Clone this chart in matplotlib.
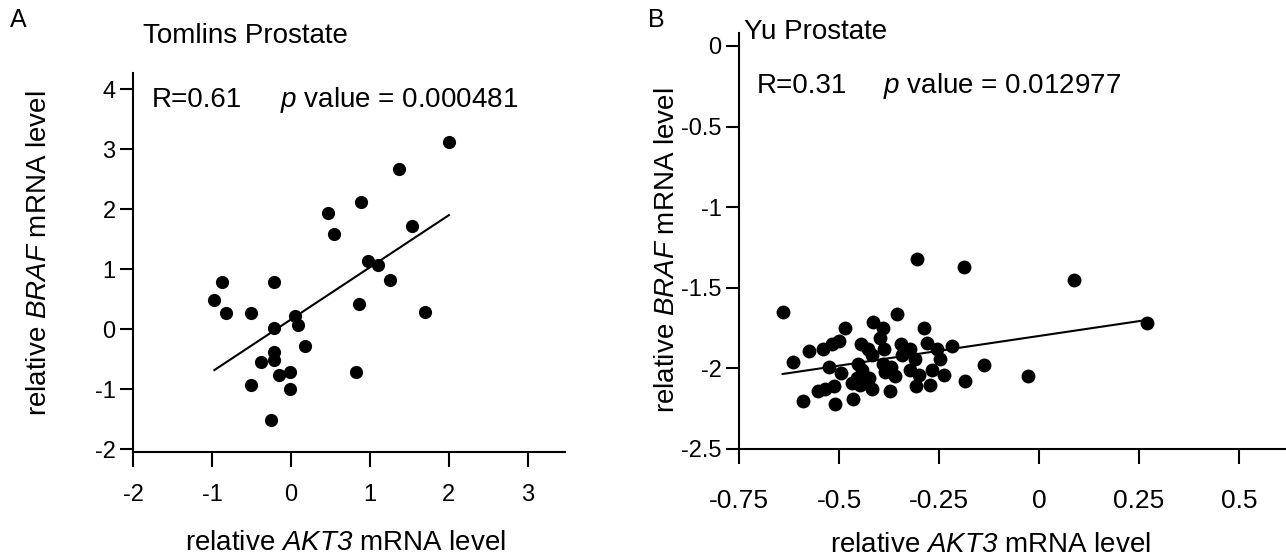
import numpy as np
import matplotlib
matplotlib.use('Agg')
import matplotlib.pyplot as plt

plt.rcParams['font.family'] = ['Liberation Sans', 'DejaVu Sans']
plt.rcParams['mathtext.fontset'] = 'custom'
plt.rcParams['mathtext.rm'] = 'Liberation Sans'
plt.rcParams['mathtext.it'] = 'Liberation Sans:italic'
# bf slot used for italic words with digits (mathit keeps digits upright)
plt.rcParams['mathtext.bf'] = 'Liberation Sans:italic'

# panel A - Tomlins Prostate
tomlins_akt3 = [2.00, 1.37, 0.89, 0.47, 0.54, 1.53, 0.97, 1.10, 1.25, 0.86,
                1.70, 0.82, -0.87, -0.97, -0.82, -0.50, -0.22, -0.21, 0.05, 0.09,
                0.18, -0.22, -0.21, -0.38, -0.15, -0.01, -0.51, -0.01, -0.25]
tomlins_braf = [3.12, 2.67, 2.12, 1.94, 1.58, 1.72, 1.14, 1.07, 0.82, 0.42,
                0.29, -0.72, 0.78, 0.48, 0.27, 0.26, 0.79, 0.01, 0.22, 0.06,
                -0.29, -0.38, -0.51, -0.55, -0.77, -0.72, -0.94, -1.00, -1.51]
tomlins_fit = [0.87, 0.16]  # slope, intercept
tomlins_r = 'R=0.61'
tomlins_p = '0.000481'

# panel B - Yu Prostate
yu_akt3 = [-0.306, -0.188, -0.641, -0.356, -0.414, -0.391, -0.484, -0.288, -0.397, -0.501,
           -0.517, -0.281, -0.218, -0.346, -0.539, -0.575, -0.446, -0.427, -0.387, -0.322,
           -0.256, -0.417, -0.343, -0.310, -0.248, -0.616, -0.138, -0.525, -0.452, -0.389,
           -0.371, -0.443, -0.323, -0.268, -0.496, -0.385, -0.299, -0.237, -0.359, -0.454,
           -0.424, -0.468, -0.447, -0.513, -0.186, -0.028, -0.307, -0.273, -0.418, -0.373,
           -0.552, -0.535, -0.589, -0.510, -0.466, 0.269, 0.087]
yu_braf = [-1.32, -1.37, -1.65, -1.66, -1.71, -1.75, -1.75, -1.75, -1.81, -1.83,
           -1.85, -1.84, -1.86, -1.85, -1.88, -1.89, -1.85, -1.88, -1.88, -1.88,
           -1.88, -1.92, -1.92, -1.94, -1.94, -1.96, -1.98, -1.99, -1.97, -1.97,
           -1.99, -2.01, -2.01, -2.01, -2.03, -2.02, -2.04, -2.04, -2.05, -2.06,
           -2.06, -2.09, -2.10, -2.11, -2.08, -2.05, -2.11, -2.10, -2.13, -2.14,
           -2.14, -2.13, -2.20, -2.22, -2.19, -1.72, -1.45]
yu_fit = [0.368, -1.799]
yu_r = 'R=0.31'
yu_p = '0.012977'

W, H = 1286, 559


def px(x, y):
    return x / W, 1 - y / H


fig = plt.figure(figsize=(W / 100, H / 100), dpi=100)

ax_a = fig.add_axes([133 / W, (H - 452) / H, 432 / W, 379 / H])
ax_b = fig.add_axes([739 / W, (H - 449) / H, 547 / W, 416 / H])


def style(ax, xpad, xsize):
    for s in ['top', 'right']:
        ax.spines[s].set_visible(False)
    for s in ['left', 'bottom']:
        ax.spines[s].set_linewidth(1.5)
    ax.tick_params(axis='x', direction='out', length=11, width=1.5, labelsize=xsize, pad=xpad)
    ax.tick_params(axis='y', direction='out', length=9.5, width=1.5, labelsize=17, pad=3)


# A
xa = np.array(tomlins_akt3)
ya = np.array(tomlins_braf)
ax_a.scatter(xa, ya, s=90, color='black', linewidths=0, clip_on=False, zorder=3)
lx = np.array([xa.min(), xa.max()])
ax_a.plot(lx, tomlins_fit[0] * lx + tomlins_fit[1], color='black', lw=1.5)
ax_a.set_xlim(-2, 3.47)
ax_a.set_ylim(-2.05, 4.27)
ax_a.set_xticks([-2, -1, 0, 1, 2, 3])
ax_a.set_xticklabels(['-2', '-1', '0', '1', '2', '3'])
ax_a.set_yticks([-2, -1, 0, 1, 2, 3, 4])
ax_a.set_yticklabels(['-2', '-1', '0', '1', '2', '3', '4'])
style(ax_a, 12, 17)

# B
xb = np.array(yu_akt3)
yb = np.array(yu_braf)
ax_b.scatter(xb, yb, s=100, color='black', linewidths=0, clip_on=False, zorder=3)
lx = np.array([xb.min(), xb.max()])
ax_b.plot(lx, yu_fit[0] * lx + yu_fit[1], color='black', lw=1.5)
ax_b.set_xlim(-0.75, 0.6175)
ax_b.set_ylim(-2.5, 0.08)
ax_b.set_xticks([-0.75, -0.5, -0.25, 0, 0.25, 0.5])
ax_b.set_xticklabels(['-0.75', '-0.5', '-0.25', '0', '0.25', '0.5'])
ax_b.set_yticks([-2.5, -2, -1.5, -1, -0.5, 0])
ax_b.set_yticklabels(['-2.5', '-2', '-1.5', '-1', '-0.5', '0'])
style(ax_b, 18, 19)

# texts
fs = 20
fig.text(*px(10, 20), 'A', fontsize=18, va='center', ha='left')
fig.text(*px(143, 36), 'Tomlins Prostate', fontsize=fs, va='center', ha='left')
fig.text(*px(152, 100), tomlins_r, fontsize=fs, va='center', ha='left')
fig.text(*px(280, 100), r'$\mathit{p}$ value = ' + tomlins_p, fontsize=fs, va='center', ha='left')
fig.text(*px(39, 253), r'relative $\mathbf{BRAF}$ mRNA level', fontsize=fs, rotation=90,
         va='center', ha='center')
fig.text(*px(345, 543), r'relative $\mathbf{AKT3}$ mRNA level', fontsize=fs, va='center', ha='center')

fig.text(*px(648, 20), 'B', fontsize=18, va='center', ha='left')
fig.text(*px(744, 32), 'Yu Prostate', fontsize=fs, va='center', ha='left')
fig.text(*px(757, 86), yu_r, fontsize=fs, va='center', ha='left')
fig.text(*px(883, 86), r'$\mathit{p}$ value = ' + yu_p, fontsize=fs, va='center', ha='left')
fig.text(*px(667, 250), r'relative $\mathbf{BRAF}$ mRNA level', fontsize=fs, rotation=90,
         va='center', ha='center')
fig.text(*px(990, 545), r'relative $\mathbf{AKT3}$ mRNA level', fontsize=fs, va='center', ha='center')

fig.savefig('out.png', dpi=100)
